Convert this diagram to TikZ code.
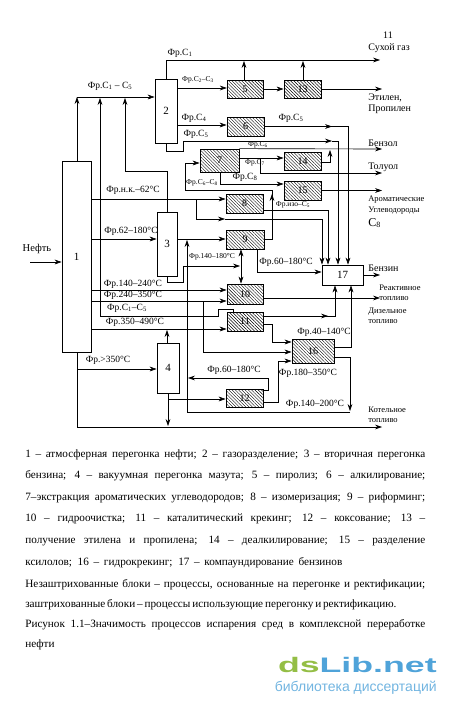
\documentclass[tikz,border=0pt]{standalone}
\usepackage{fontspec}
\setmainfont{Liberation Serif}
\newfontfamily\logofont{Liberation Sans}
\usetikzlibrary{arrows.meta,patterns.meta}

\definecolor{logogreen}{HTML}{94BE45}
\definecolor{logoblue}{HTML}{4FA3D9}
\newcommand{\Fr}{Фр.}
\newcommand{\Csub}[1]{C\textsubscript{#1}}

\begin{document}
\begin{tikzpicture}[x=1pt,y=-1pt,line width=0.65pt,
  >={Stealth[length=7pt,width=4.8pt]},
  unit/.style={rectangle, draw, line width=0.75pt, inner sep=0pt, font=\fontsize{11}{12}\selectfont},
  hatched/.style={unit, pattern={Lines[angle=-45,distance=2.3pt,line width=0.4pt]}, font=\fontsize{10}{12}\selectfont},
  lbl/.style={inner sep=0pt, font=\fontsize{9.5}{10}\selectfont},
  slbl/.style={inner sep=0pt, font=\fontsize{7.5}{9}\selectfont},
  prod/.style={inner sep=0pt, anchor=west, font=\fontsize{10}{12}\selectfont},
  sprod/.style={prod, font=\fontsize{8.5}{10}\selectfont},
  legline/.style={inner sep=0pt, anchor=base west, font=\fontsize{11.2}{12}\selectfont}]
  \useasboundingbox[fill=white] (0,0) rectangle (450,701);

  % units
  \path (76.5,256.5) node[unit, minimum width=29pt, minimum height=191pt] (b1) {1}
    (166,111) node[unit, minimum width=22pt, minimum height=64pt] (b2) {2}
    (167,244) node[unit, minimum width=20pt, minimum height=64pt] (b3) {3}
    (168,368) node[unit, minimum width=22pt, minimum height=50pt] (b4) {4}
    (342.5,275) node[unit, minimum width=41pt, minimum height=20pt] (b17) {17};
  \path (245,89) node[hatched, minimum width=36pt, minimum height=18pt] (b5) {5}
    (302.5,89) node[hatched, minimum width=37pt, minimum height=18pt] (b13) {13}
    (245.5,126.5) node[hatched, minimum width=37pt, minimum height=19pt] (b6) {6}
    (219.5,160.5) node[hatched, minimum width=39pt, minimum height=23pt] (b7) {7}
    (302.5,161) node[hatched, minimum width=37pt, minimum height=18pt] (b14) {14}
    (302.5,190.5) node[hatched, minimum width=37pt, minimum height=19pt] (b15) {15}
    (244.5,203.5) node[hatched, minimum width=37pt, minimum height=19pt] (b8) {8}
    (245,239.5) node[hatched, minimum width=38pt, minimum height=19pt] (b9) {9}
    (245,294) node[hatched, minimum width=36pt, minimum height=20pt] (b10) {10}
    (245,321.5) node[hatched, minimum width=36pt, minimum height=19pt] (b11) {11}
    (313,351) node[hatched, minimum width=42pt, minimum height=24pt] (b16) {16}
    (244.5,398) node[hatched, minimum width=37pt, minimum height=18pt] (b12) {12};

  % feed and gases
  \coordinate (feed) at (30,262);
  \draw[->] (feed) -- (b1.west |- feed);
  \draw[->] (b1.north -| 77,0) -- (77,97);
  \draw[->] (77,97) -- (b2.west |- 0,97);
  \draw[->] (b11.north -| 233,0) -- (233,309) -- (218,309) -- (218,316) -- (100,316) -- (100,98);
  \draw[->] (b3.north) -- (167,171) -- (125,171) -- (125,98);
  \draw[->] (b2.north) -- (166,60) -- (380,60);
  \draw[->] (b5.north -| 244,0) -- (244,61);
  \draw[->] (b13.north -| 303,0) -- (303,61);
  \draw[->] (b2.east |- 0,88) -- (b5.west |- 0,88);
  \draw[->] (b5) -- (b13);
  \draw[->] (b13.east) -- (382,89);
  \draw[->] (b2.east |- 0,125) -- (b6.west |- 0,125);
  \draw[->] (b6.east) -- (332,126.5);
  \draw[->] (b6.east) -| (b17.north -| 348,0);
  \draw[->] (b2.south) -- (166,151) -- (183,151) -- (183,141) -- (332,141);
  \draw[->] (332,141) -| (b17.north -| 338,0);

  % aromatics
  \draw[->] (b7.north east) -- (382,149);
  \draw[->] (b7.east |- 0,158) -- (b14.west |- 0,158);
  \draw[->] (260,158) -- (260,173) -- (382,173);
  \draw[->] (b14.east |- 0,162) -- (330,162) -- (330,150);
  \draw[->] (b7.south -| 220,0) -- (220,184) -- (b15.west |- 0,184);
  \draw[->] (b15.east) -- (382,190.5);
  \draw[->] (b9.east) -| (272,194);
  \draw[->] (272,196) -- (272,190) -- (185,190) -- (185,163) -- (b7.west |- 0,163);

  % naphtha
  \draw[->] (b1.east |- 0,199) -- (b8.west |- 0,199);
  \draw[->] (196,199) -- (196,219) -- (225,219);
  \draw[->] (225,219) -| (b17.north -| 322,0);
  \draw[->] (b8.east |- 0,210) -| (b17.north -| 328,0);
  \draw[->] (b1.east |- 0,239) -- (b3.west |- 0,239);
  \draw[->] (b3.east |- 0,239) -- (b9.west |- 0,239);
  \draw[->] (b3.south) -- (167,282) -- (183,282) -- (183,266) -- (240,266);
  \draw[<->] (b9.south -| 241,0) -- (b10.north -| 241,0);
  \draw[->] (b9.south -| 257,0) |- (b17.west |- 0,272);
  \draw[->] (b17.east) -- (380,275);

  % distillates
  \draw[->] (b1.east |- 0,290) -- (b10.west |- 0,290);
  \draw[->] (b1.east |- 0,301) -- (b10.west |- 0,301);
  \draw[->] (203,301) |- (b16.west |- 0,352);
  \draw[->] (b10.east |- 0,298) -- (380,298);
  \draw[->] (b1.east |- 0,329) -- (b11.west |- 0,329);
  \draw[->] (b4.north -| 167,0) -- (167,330);
  \draw[->] (b11.east |- 0,316) -- (328,316);
  \draw[->] (b11.east |- 0,316) -| (b17.south -| 335,0);
  \draw[->] (b11.east |- 0,324) -- (272,324) |- (b16.west |- 0,342);
  \draw[->] (b16.east |- 0,347) -| (b17.south -| 351,0);
  \draw[->] (b16.east |- 0,357) -| (350,411);
  \draw[->] (350,412) -- (187,412) -- (187,240);

  % residue
  \draw[->] (b1.south -| 77,0) -- (77,427) -- (382,427);
  \draw[->] (77,369) -- (b4.west |- 0,369);
  \draw[->] (b4.south -| 168,0) -- (168,426);
  \draw[->] (168,399) -- (b12.west |- 0,399);
  \draw[->] (b12.east |- 0,390) -- (268,390) -- (268,378) -- (188,378);
  \draw[->] (b12.east |- 0,402) -- (278,402) -- (278,361) -- (b16.west |- 0,361);

  % fraction labels
  \path (37,249) node[inner sep=0pt, font=\fontsize{10.5}{12}\selectfont] (feedlbl) {Нефть}
    (110,86) node[lbl] (l1) {\Fr\Csub{1} -- \Csub{5}}
    (180,53) node[lbl] (l2) {\Fr\Csub{1}}
    (198,80) node[slbl] (l3) {\Fr\Csub{2}--\Csub{3}}
    (194,118) node[lbl] (l4) {\Fr\Csub{4}}
    (196,134) node[lbl] (l5) {\Fr\Csub{5}}
    (291,118) node[lbl] (l6) {\Fr\Csub{5}}
    (258,145) node[slbl] (l7) {\Fr\Csub{6}}
    (255,163) node[slbl] (l8) {\Fr\Csub{7}}
    (245,177) node[lbl] (l9) {\Fr\Csub{8}}
    (202,183) node[slbl] (l10) {\Fr\Csub{6}--\Csub{8}}
    (293,205) node[slbl] (l11) {\Fr изо--\Csub{5}}
    (133,190) node[lbl] (l12) {\Fr н.к.--62°С}
    (131,231) node[lbl] (l13) {\Fr 62--180°С}
    (212,257) node[slbl] (l14) {\Fr 140--180°С}
    (286,262) node[lbl] (l15) {\Fr 60--180°С}
    (133,284) node[lbl] (l16) {\Fr 140--240°С}
    (133,295) node[lbl] (l17) {\Fr 240--350°С}
    (127,308) node[lbl] (l18) {\Fr\Csub{1}--\Csub{5}}
    (135,322) node[lbl] (l19) {\Fr 350--490°С}
    (108,360) node[lbl] (l20) {\Fr>350°С}
    (324,332) node[lbl] (l21) {\Fr 40--140°С}
    (234,370) node[lbl] (l22) {\Fr 60--180°С}
    (308,373) node[lbl] (l23) {\Fr 180--350°С}
    (315,404) node[lbl] (l24) {\Fr 140--200°С};

  % products
  \path (368,48) node[prod] (p1) {Сухой газ}
    (368,98) node[prod] (p2) {Этилен,}
    (368,109) node[prod] (p3) {Пропилен}
    (368,143) node[prod] (p4) {Бензол}
    (368,167) node[prod] (p5) {Толуол}
    (368,200) node[sprod] (p6) {Ароматические}
    (368,211) node[sprod] (p7) {Углеводороды}
    (368,223) node[prod, font=\fontsize{12}{14}\selectfont] (p8) {\Csub{8}}
    (368,268) node[prod] (p9) {Бензин}
    (379,288) node[sprod] (p10) {Реактивное}
    (379,299) node[sprod] (p11) {топливо}
    (368,312) node[sprod] (p12) {Дизельное}
    (368,322) node[sprod] (p13) {топливо}
    (368,410) node[sprod] (p14) {Котельное}
    (368,421) node[sprod] (p15) {топливо}
    (388,35) node[prod, anchor=center] (page) {11};

  % legend
  \path (25,457) node[legline] (t1) {\makebox[400pt][s]{1 – атмосферная перегонка нефти; 2 – газоразделение; 3 – вторичная перегонка}}
    (25,478.6) node[legline] (t2) {\makebox[400pt][s]{бензина; 4 – вакуумная перегонка мазута; 5 – пиролиз; 6 – алкилирование;}}
    (25,500.2) node[legline] (t3) {\makebox[400pt][s]{7–экстракция ароматических углеводородов; 8 – изомеризация; 9 – риформинг;}}
    (25,521.8) node[legline] (t4) {\makebox[400pt][s]{10 – гидроочистка; 11 – каталитический крекинг; 12 – коксование; 13 –}}
    (25,543.4) node[legline] (t5) {\makebox[400pt][s]{получение этилена и пропилена; 14 – деалкилирование; 15 – разделение}}
    (25,565) node[legline] (t6) {\makebox[317pt][s]{ксилолов; 16 – гидрокрекинг; 17 – компаундирование бензинов}}
    (25,587) node[legline] (t7) {\makebox[400pt][s]{Незаштрихованные блоки – процессы, основанные на перегонке и ректификации;}}
    (25,607) node[legline] (t8) {\makebox[363pt][s]{заштрихованные блоки – процессы использующие перегонку и ректификацию.}}
    (25,627) node[legline] (t9) {\makebox[400pt][s]{Рисунок 1.1–Значимость процессов испарения сред в комплексной переработке}}
    (25,647.5) node[legline] (t10) {нефти};

  % watermark
  \path (437,665) node[anchor=east, inner sep=0pt, font=\logofont\bfseries\fontsize{21}{22}\selectfont] (logo) {\scalebox{1.7}[1]{\textcolor{logogreen}{ds}\textcolor{logoblue}{Lib.net}}}
    (437,688) node[anchor=east, inner sep=0pt, text=logoblue!80, font=\logofont\fontsize{14}{16}\selectfont] (logosub) {библиотека диссертаций};
\end{tikzpicture}
\end{document}
